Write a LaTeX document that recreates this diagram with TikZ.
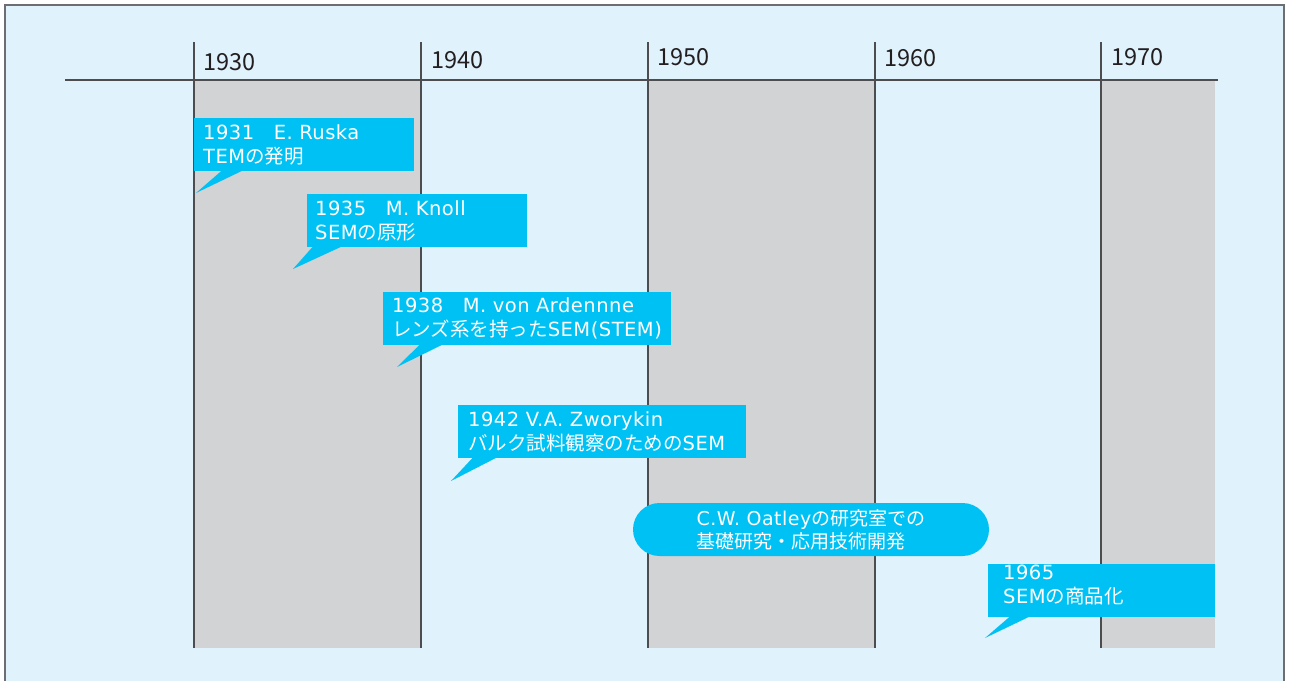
\documentclass[tikz,border=0pt]{standalone}
\usepackage{fontspec}
\newfontfamily\jpfont{Noto Sans CJK JP}
\newfontfamily\latinfont[LetterSpace = 2.5]{DejaVu Sans}
\definecolor{bgblue}{HTML}{E0F2FC}
\definecolor{framegrey}{HTML}{6D6E71}
\definecolor{bandgrey}{HTML}{D1D3D4}
\definecolor{boxcyan}{HTML}{00C1F3}
\definecolor{linegrey}{HTML}{4D4D4F}
\definecolor{yeargrey}{HTML}{231F20}
\tikzset{
	year/.style = {anchor = west, inner sep = 0pt, text = yeargrey, font = \jpfont\fontsize{23.5}{23.5}\selectfont},
	event/.style = {anchor = north west, fill = boxcyan, text = white, align = left, inner ysep = 0pt, minimum height = 53pt, text width = #1, font = \latinfont\fontsize{19.5}{24}\selectfont},
	tail/.style = {fill = boxcyan},
	grid/.style = {draw = linegrey, line width = 1.2pt}
}
\begin{document}
\begin{tikzpicture} [x = 1pt, y = -1pt]
	\useasboundingbox (0,0) rectangle (1290,680);
	\fill [white] (0,0) rectangle (1290,680);
	\filldraw [fill = bgblue, draw = framegrey, line width = 1.5pt] (5,5) rectangle (1284,690);
	% decades
	\fill [bandgrey] (194,80) rectangle (421,648);
	\fill [bandgrey] (648,80) rectangle (875,648);
	\fill [bandgrey] (1101,80) rectangle (1215,648);
	\draw [grid] (65,80) -- (1218,80);
	\foreach \x in {194,421,648,875,1101}
		\draw [grid] (\x,42) -- (\x,648);
	\node [year] (y1930) at (203,62) {1930};
	\node [year] (y1940) at (431,60) {1940};
	\node [year] (y1950) at (657,57) {1950};
	\node [year] (y1960) at (884,58) {1960};
	\node [year] (y1970) at (1111,57) {1970};
	% events
	\coordinate (ruska tip) at (196,193);
	\coordinate (knoll tip) at (293,269);
	\coordinate (ardenne tip) at (397,367);
	\coordinate (zworykin tip) at (451,481);
	\coordinate (sale tip) at (985,638);
	\node [event = 202pt, inner xsep = 9pt] (ruska) at (194,118) {1931{\jpfont　}E. Ruska\\TEM{\jpfont の発明}};
	\node [event = 204pt, inner xsep = 8pt] (knoll) at (307,194) {1935{\jpfont　}M. Knoll\\SEM{\jpfont の原形}};
	\node [event = 270pt, inner xsep = 9pt] (ardenne) at (383,292) {1938{\jpfont　}M. von Ardennne\\{\jpfont レンズ系を持った}SEM(STEM)};
	\node [event = 268pt, inner xsep = 10pt] (zworykin) at (458,405) {1942 V.A. Zworykin\\{\jpfont バルク試料観察のための}SEM};
	\node [event = 197pt, inner xsep = 15pt] (sale) at (988,564) {1965\\SEM{\jpfont の商品化}\\[-12pt]\mbox{}};
	\node [fill = boxcyan, text = white, align = left, rounded corners = 26.5pt, minimum width = 356pt, minimum height = 53pt, inner sep = 0pt, font = \latinfont\fontsize{19}{23}\selectfont] (oatley) at (811,529.5) {C.W. Oatley{\jpfont の研究室での}\\{\jpfont 基礎研究・応用技術開発}};
	\fill [tail] ([xshift = 28pt, yshift = 1pt]ruska.south west) -- (ruska tip) -- ([xshift = 49pt, yshift = 1pt]ruska.south west) -- cycle;
	\fill [tail] ([xshift = 6pt, yshift = 1pt]knoll.south west) -- (knoll tip) -- ([xshift = 35pt, yshift = 1pt]knoll.south west) -- cycle;
	\fill [tail] ([xshift = 37pt, yshift = 1pt]ardenne.south west) -- (ardenne tip) -- ([xshift = 60pt, yshift = 1pt]ardenne.south west) -- cycle;
	\fill [tail] ([xshift = 15pt, yshift = 1pt]zworykin.south west) -- (zworykin tip) -- ([xshift = 39pt, yshift = 1pt]zworykin.south west) -- cycle;
	\fill [tail] ([xshift = 22pt, yshift = 1pt]sale.south west) -- (sale tip) -- ([xshift = 42pt, yshift = 1pt]sale.south west) -- cycle;
\end{tikzpicture}
\end{document}
